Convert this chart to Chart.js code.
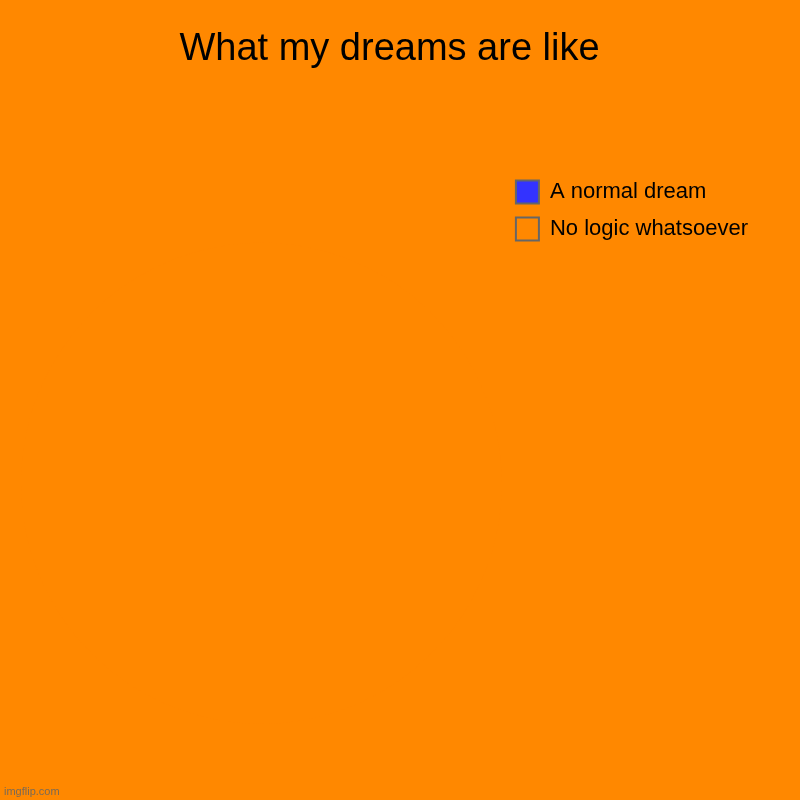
<!DOCTYPE html>
<html>
<head>
<meta charset="utf-8">
<title>What my dreams are like</title>
<script src="https://cdn.jsdelivr.net/npm/chart.js@4/dist/chart.umd.min.js"></script>
<style>
  html, body { margin: 0; padding: 0; background: #FF8800; }
  #wrap { position: relative; width: 800px; height: 800px; }
  #watermark {
    position: absolute; left: 4px; top: 785px;
    font: 11px "Liberation Sans", Arial, sans-serif; color: #7a6a55;
  }
</style>
</head>
<body>
<div id="wrap">
  <canvas id="chart" width="800" height="800"></canvas>
  <div id="watermark">imgflip.com</div>
</div>
<script>
// ------------------------------------------------
//  Chart data
// ------------------------------------------------
const TITLE      = 'What my dreams are like';
const categories = ['A normal dream', 'No logic whatsoever'];
const values     = [0, 100];
const colors     = ['#3333FF', '#FF8800'];

const FONT = '"Liberation Sans", Arial, sans-serif';

new Chart(document.getElementById('chart'), {
  type: 'pie',
  data: {
    labels: categories,
    datasets: [{
      data:            values,
      backgroundColor: colors,
      borderWidth:     0,
    }],
  },
  options: {
    responsive: false,
    animation:  false,
    // uneven side padding: title sits a little left of centre, legend near the right edge
    layout: { padding: { left: 21, right: 42 } },
    plugins: {
      title: {
        display: true,
        text:    TITLE,
        color:   '#000',
        font:    { family: FONT, size: 38, weight: 'normal' },
        padding: { top: 27, bottom: 94 },
      },
      legend: {
        position: 'right',
        align:    'start',
        fullSize: false,   // sit below the title, not beside it
        labels: {
          color:     '#000',
          font:      { family: FONT, size: 22 },
          boxWidth:  23,
          boxHeight: 23,
          padding:   14,
          // legend swatches keep a grey outline even though slices have none
          generateLabels: chart =>
            Chart.overrides.pie.plugins.legend.labels.generateLabels(chart)
              .map(item => ({ ...item, strokeStyle: '#666', lineWidth: 2, hidden: false })),
        },
      },
      tooltip: { enabled: false },
    },
  },
});
</script>
</body>
</html>
